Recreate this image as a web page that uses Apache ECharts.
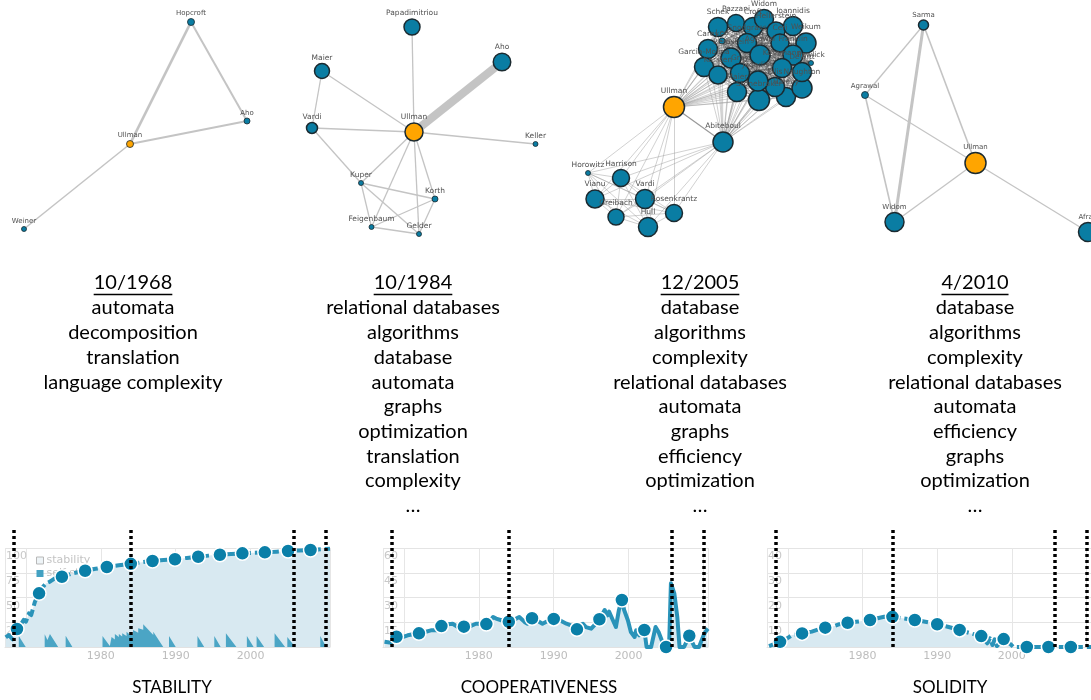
<!DOCTYPE html>
<html><head><meta charset="utf-8">
<script src="https://cdn.jsdelivr.net/npm/echarts@6/dist/echarts.min.js"></script>
<style>html,body{margin:0;padding:0;background:#fff}#c{width:1091px;height:700px}</style>
</head><body><div id="c"></div>
<script>
// ================= DATA =================
const focusAuthor = 'Ullman';
const snapshotDates = ['10/1968', '10/1984', '12/2005', '4/2010'];
const topics1968 = ['automata', 'decomposition', 'translation', 'language complexity'];
const topics1984 = ['relational databases', 'algorithms', 'database', 'automata', 'graphs', 'optimization', 'translation', 'complexity', '…'];
const topics2005 = ['database', 'algorithms', 'complexity', 'relational databases', 'automata', 'graphs', 'efficiency', 'optimization', '…'];
const topics2010 = ['database', 'algorithms', 'complexity', 'relational databases', 'automata', 'efficiency', 'graphs', 'optimization', '…'];
const metricNames = ['STABILITY', 'COOPERATIVENESS', 'SOLIDITY'];
const eventYears = [1968.4, 1984.05, 2005.7, 2010.0];
const xLabelYears = [1980, 1990, 2000];

const stabilityLine = [[1967.3,9.8],[1967.7,12.1],[1968.2,7.8],[1968.8,18.2],[1969.4,23.9],[1969.7,27.3],[1970.0,25.6],[1970.4,34],[1970.7,32.3],[1971.2,45.8],[1971.75,54.2],[1972.3,61],[1972.7,64.3],[1973.2,66],[1973.85,69.4],[1974.8,71],[1976.3,74.5],[1977.9,77],[1979.3,79],[1980.8,80.8],[1982.4,82.5],[1984.0,84],[1985.5,85.6],[1986.9,86.9],[1988.4,87.8],[1989.9,88.6],[1991.5,90],[1993.0,91.2],[1994.4,92.3],[1995.9,93.2],[1997.4,94],[1998.9,94.6],[2000.4,95.2],[2001.9,95.6],[2003.5,96.3],[2005.0,97],[2006.5,97.5],[2008.0,98],[2010.6,99.3]];
const stabilityDots = [[1968.8,18.2],[1971.75,54.2],[1974.8,71],[1977.9,77],[1980.8,80.8],[1984.0,84],[1986.9,86.9],[1989.9,88.6],[1993.0,91.2],[1995.9,93.2],[1998.9,94.6],[2001.9,95.6],[2005.0,97],[2008.0,98]];
const selfStability = [[1967.2,0],[1969.04,0],[1969.04,11.1],[1969.97,0],[1972.5,0],[1972.5,12.8],[1972.87,7],[1973.2,13.1],[1974.3,0],[1975.3,0],[1975.3,11.4],[1976.2,0],[1980.22,0],[1980.22,11.1],[1981.2,1],[1981.43,1],[1981.43,10.1],[1981.87,7.5],[1981.87,13.1],[1982.4,10],[1982.4,13.1],[1982.85,10.5],[1982.85,13.8],[1983.43,11],[1983.43,15.5],[1983.88,12.5],[1983.88,14.5],[1984.3,12.5],[1984.3,17.2],[1984.99,14.5],[1984.99,18.9],[1985.66,17.5],[1985.66,22.9],[1987.0,12],[1987.0,15.5],[1988.33,0],[1989.1,0],[1989.1,11.1],[1990.0,0],[1992.9,0],[1992.9,11.1],[1993.8,0],[1995.15,0],[1995.15,11.1],[1996.0,0],[1996.7,0],[1996.7,13.8],[1998.1,0],[1999.5,0],[1999.5,11.1],[2000.4,0],[2000.8,0],[2000.8,11.1],[2001.8,0],[2003.2,0],[2003.2,13.8],[2004.6,0],[2004.9,0],[2004.9,10.1],[2005.95,0],[2009.3,0],[2009.3,11.1],[2010.1,0],[2010.6,0]];

const coopLine = [[1967.4,3.2],[1968.3,2.6],[1969.0,6.2],[1969.9,6.1],[1970.5,7.1],[1971.2,7.7],[1972.0,8.3],[1972.8,9.1],[1973.6,10.1],[1974.3,10.1],[1975.0,12.7],[1975.9,13.8],[1976.5,14.1],[1977.2,12.1],[1978.0,12.3],[1978.8,12.5],[1979.6,14.1],[1980.5,14.1],[1981.0,13.9],[1981.4,15.2],[1981.9,18.2],[1982.3,17.2],[1983.0,16.2],[1983.4,16.7],[1984.0,15.3],[1984.5,15.6],[1985.0,17.2],[1985.4,18.2],[1986.1,15.2],[1986.5,14.1],[1987.1,17.4],[1987.7,16.2],[1988.1,15.2],[1988.5,14.1],[1989.4,16.2],[1990.0,17.0],[1990.8,16.2],[1991.7,14.1],[1992.3,13.1],[1993.1,10.7],[1993.4,13.1],[1993.9,14.1],[1994.3,12.1],[1995.0,11.1],[1995.4,13.1],[1996.1,16.8],[1996.3,18.2],[1996.8,22.4],[1997.2,19.2],[1997.4,21.4],[1997.9,16.2],[1998.3,12.1],[1998.7,22.4],[1999.1,28.5],[1999.4,22.4],[1999.9,16.2],[2000.3,9.1],[2000.8,6.1],[2001.0,10.1],[2001.4,7.1],[2002.1,10.3],[2002.4,0],[2003.0,0],[2003.6,12.1],[2004.0,9.1],[2004.5,3.2],[2004.8,0],[2005.0,0],[2005.4,0],[2005.65,38.6],[2006.1,32.5],[2006.5,18.2],[2006.8,0],[2007.4,0],[2008.1,6.8],[2008.8,0],[2009.4,0],[2010.1,8.1],[2010.4,10.1],[2010.6,11.1]];
const coopDots = [[1969.0,6.2],[1972.0,8.3],[1975.0,12.7],[1978.0,12.3],[1981.0,13.9],[1984.0,15.3],[1987.1,17.4],[1990.0,17.0],[1993.1,10.7],[1996.1,16.8],[1999.1,28.5],[2002.1,10.3],[2005.0,0],[2008.1,6.8]];

const solidityLine = [[1967.47,0.4],[1968.95,2.1],[1969.9,3.5],[1970.55,4.8],[1971.9,5.5],[1973.2,6.2],[1974.06,7.1],[1975.0,7.8],[1976.27,8.5],[1976.9,9.2],[1978.0,9.8],[1979.1,10.2],[1980.0,10.5],[1981.0,10.9],[1982.0,11.6],[1982.9,12.2],[1984.0,12.2],[1985.3,11.6],[1987.0,10.9],[1988.4,10.2],[1990.0,9.2],[1991.4,8.2],[1993.0,6.9],[1994.5,5.5],[1995.9,4.4],[1996.7,1.5],[1997.06,3.5],[1997.4,0.8],[1997.7,3.1],[1998.0,0.4],[1998.9,3.2],[1999.8,1.2],[2000.2,0],[2002.0,0],[2004.9,0],[2007.9,0],[2010.6,0]];
const solidityDots = [[1968.95,2.1],[1971.9,5.5],[1975.0,7.8],[1978.0,9.8],[1981.0,10.9],[1984.0,12.2],[1987.0,10.9],[1990.0,9.2],[1993.0,6.9],[1995.9,4.4],[1998.9,3.2],[2002.0,0],[2004.9,0],[2007.9,0]];

// ---- co-author networks (names, node weights, links) ----
const net1Nodes = ['Ullman', 'Hopcroft', 'Aho', 'Weiner'];
const net1Weights = [7, 7, 6, 5];
const net1Links = [['Ullman','Hopcroft',2.6],['Hopcroft','Aho',2],['Ullman','Aho',2],['Ullman','Weiner',1.5]];

const net2Nodes = ['Ullman','Papadimitriou','Aho','Maier','Vardi','Keller','Kuper','Korth','Feigenbaum','Gelder'];
const net2Weights = [18, 16, 17.5, 15, 11, 5, 5, 6, 5, 5];
const net2Links = [['Ullman','Aho',8],['Ullman','Papadimitriou',1.3],['Ullman','Maier',1.3],['Ullman','Vardi',1.3],['Ullman','Keller',1.3],['Ullman','Kuper',1.3],['Ullman','Feigenbaum',1.3],['Ullman','Gelder',1.3],['Ullman','Korth',1.3],['Maier','Vardi',1.3],['Vardi','Kuper',1.3],['Kuper','Korth',1.3],['Kuper','Feigenbaum',1.3],['Kuper','Gelder',1.3],['Feigenbaum','Korth',1.3],['Feigenbaum','Gelder',1.3],['Korth','Gelder',1.3]];

const net3Hubs = ['Ullman', 'Abiteboul'];
const net3HubWeights = [21, 20];
const net3Cluster = ['Schek','Pazzani','Croft','Widom','Hellerstein','Ioannidis','Lee','Carey','Snodgrass','Ceri','Weikum','Franklin','Bernstein','Agrawal','Garcia-Molina','Kersten','Gray','Maier','Stonebraker','Halevy','Ellis','Naughton','DeWitt','Pawlick','Jagadish','Kossmann'];
const net3ClusterWeights = [19,17,19,19,18,19,6,19,19,18,20,20,20,20,19,18,19,19,21,19,19,20,19,5,20,19];
const net3Lower = ['Horowitz','Harrison','Vianu','Vardi','Rosenkrantz','Greibach','Hull'];
const net3LowerWeights = [5, 17, 18, 19, 17, 16, 19];

const net4Nodes = ['Ullman','Sarma','Agrawal','Widom','Afrati'];
const net4Weights = [21, 10, 7, 19, 19];
const net4Links = [['Sarma','Agrawal',1.3],['Sarma','Widom',3],['Sarma','Ullman',1.6],['Agrawal','Widom',1.6],['Agrawal','Ullman',1.3],['Ullman','Widom',1.3],['Ullman','Afrati',1.3]];

// ---- node placement of the drawn networks (canvas coordinates of the hidden axes) ----
const netLayout1 = {Ullman:[130,144], Hopcroft:[191,22], Aho:[247,121], Weiner:[24,229]};
const netLayout2 = {Ullman:[414,132], Papadimitriou:[412,27], Aho:[502,62], Maier:[322,71], Vardi:[312,128], Keller:[535.5,144], Kuper:[361,183], Korth:[435,199], Feigenbaum:[371.5,227], Gelder:[419,234]};
const netLayout3 = {Ullman:[674,107], Abiteboul:[723,142],
  Schek:[718,27], Pazzani:[736,23], Croft:[753,27], Widom:[764,19], Hellerstein:[776,31], Ioannidis:[793,26], Lee:[722,41], Carey:[708,49], Snodgrass:[747,43], Ceri:[780,43], Weikum:[806,43], Franklin:[793,55], Bernstein:[731,58], Agrawal:[760,55], 'Garcia-Molina':[704,67], Kersten:[718,75], Gray:[740,73], Maier:[737,92], Stonebraker:[759,100], Halevy:[786,97], Ellis:[775,87], Naughton:[802,88], DeWitt:[802,72], Pawlick:[811,63], Jagadish:[758,81], Kossmann:[782,68],
  Horowitz:[588,173], Harrison:[621,178], Vianu:[595,199], Vardi:[645,199], Rosenkrantz:[674,213], Greibach:[616,217], Hull:[648,227]};
const netLayout4 = {Ullman:[975.5,163], Sarma:[923.5,25], Agrawal:[865,95], Widom:[894.5,222], Afrati:[1088,232]};

// ================= CHART =================
const chart = echarts.init(document.getElementById('c'), null, {renderer:'canvas', width:1091, height:700});
const X_MIN = 1967.2, X_MAX = 2010.6;
const chartLefts = [5, 383, 767];
const yMaxes = [100, 60, 40], yIntervals = [25, 15, 10];
const LINE_C = '#2a93b9', DOT_C = '#0a7fa8', AREA_C = '#d8e9f1';

const grids = [], xAxes = [], yAxes = [], series = [];
chartLefts.forEach((l, i) => {
  grids.push({left:l, top:548, width:325, height:99});
  grids.push({left:l, top:528, width:325, height:119});
  xAxes.push({gridIndex:2*i, type:'value', min:X_MIN, max:X_MAX, splitNumber:4,
    axisLine:{show:true, lineStyle:{color:'#e2e2e2'}}, axisTick:{show:false},
    splitLine:{show:true, lineStyle:{color:'#e6e6e6', width:1}},
    axisLabel:{color:'#bdbdbd', fontSize:11, fontFamily:'DejaVu Sans', margin:4,
      showMinLabel:false, showMaxLabel:false,
      formatter: v => xLabelYears.some(y => Math.abs(y - v) < 0.01) ? String(Math.round(v)) : ''}});
  xAxes.push({gridIndex:2*i+1, type:'value', min:X_MIN, max:X_MAX, show:false});
  yAxes.push({gridIndex:2*i, type:'value', min:0, max:yMaxes[i], interval:yIntervals[i],
    axisLine:{show:false}, axisTick:{show:false},
    splitLine:{show:true, lineStyle:{color:'#e4e4e4'}},
    axisLabel:{inside:true, verticalAlign:'top', margin:1, padding:[3,0,0,0], color:'#c9c9c9', fontSize:11, fontFamily:'DejaVu Sans', showMinLabel:false}});
  yAxes.push({gridIndex:2*i+1, type:'value', min:0, max:1, show:false});
  // event markers (snapshot dates)
  series.push({type:'line', xAxisIndex:2*i+1, yAxisIndex:2*i+1, data:[], z:10, silent:true,
    markLine:{symbol:['none','none'], silent:true, animation:false, label:{show:false},
      lineStyle:{color:'#000', width:3.5, type:[3,3], cap:'butt', opacity:1},
      emphasis:{disabled:true},
      data: eventYears.map(v => ({xAxis:v}))}});
});
grids.push({left:0, top:0, width:1091, height:700});
xAxes.push({gridIndex:6, type:'value', min:0, max:1091, show:false});
yAxes.push({gridIndex:6, type:'value', min:0, max:700, inverse:true, show:false});

const metricSeries = [
  {name:'stability', line:stabilityLine, dots:stabilityDots, dash:[10,4]},
  {name:'cooperativeness', line:coopLine, dots:coopDots, dash:'solid'},
  {name:'solidity', line:solidityLine, dots:solidityDots, dash:[10,4]}
];
metricSeries.forEach((m, i) => {
  series.push({name:m.name, type:'line', xAxisIndex:2*i, yAxisIndex:2*i, data:m.line, showSymbol:false, z:2,
    lineStyle:{color:LINE_C, width:4, type:m.dash, join:'round'}, itemStyle:{color:LINE_C},
    areaStyle:{color:AREA_C, opacity:1}, emphasis:{disabled:true}, silent:true});
  series.push({name:m.name + ' points', type:'scatter', xAxisIndex:2*i, yAxisIndex:2*i, data:m.dots, z:4,
    symbolSize:14, clip:false, itemStyle:{color:DOT_C, borderColor:'#fff', borderWidth:1.5, opacity:1}, silent:true});
  if (i === 0) {
    series.push({name:'self-stability', type:'line', xAxisIndex:0, yAxisIndex:0, data:selfStability, showSymbol:false, z:3,
      lineStyle:{width:0}, itemStyle:{color:'#43a1c2'}, areaStyle:{color:'#43a1c2', opacity:0.95}, silent:true});
  }
});

// networks
function nodeStyle(name, size) {
  return {color: name === focusAuthor ? '#ffa500' : '#0a7da3', borderColor:'#1b2a30', borderWidth: size > 9 ? 1.5 : 0.8};
}
function graphSeries(names, weights, layout, links, lineStyle, labelSize) {
  return {type:'graph', coordinateSystem:'cartesian2d', xAxisIndex:6, yAxisIndex:6, z:5, silent:true,
    data: names.map((n, k) => ({name:n, value:layout[n], symbolSize:weights[k], itemStyle:nodeStyle(n, weights[k])})),
    links: links.map(l => ({source:l[0], target:l[1], lineStyle:Object.assign({}, lineStyle, l[2] ? {width:l[2]} : {}, l[3] || {})})),
    label:{show:true, position:'top', distance:1, fontSize:labelSize, color:'#505050', fontFamily:'DejaVu Sans'},
    lineStyle:{color:'#c4c4c4', width:1.2, opacity:1, curveness:0},
    emphasis:{disabled:true}, animation:false};
}
series.push(graphSeries(net1Nodes, net1Weights, netLayout1, net1Links, {color:'#c4c4c4'}, 7));
series.push(graphSeries(net2Nodes, net2Weights, netLayout2, net2Links, {color:'#c4c4c4'}, 7.5));
// network 3 links: the dense cluster, the lower group, and the hubs joining them
const net3Links = [['Ullman','Abiteboul',1.2]];
const dense = {color:'#3a3a3a', opacity:0.5};
const light = {color:'#999', opacity:0.65};
for (let a = 0; a < net3Cluster.length; a++) for (let b = a + 1; b < net3Cluster.length; b++) net3Links.push([net3Cluster[a], net3Cluster[b], 0.6, dense]);
for (let a = 0; a < net3Lower.length; a++) for (let b = a + 1; b < net3Lower.length; b++) net3Links.push([net3Lower[a], net3Lower[b], 0.7, light]);
net3Hubs.forEach(h => {
  net3Cluster.forEach(c => net3Links.push([h, c, 0.7, light]));
  net3Lower.forEach(c => net3Links.push([h, c, 0.7, light]));
});
series.push(graphSeries(net3Hubs.concat(net3Cluster, net3Lower), net3HubWeights.concat(net3ClusterWeights, net3LowerWeights), netLayout3, net3Links, {color:'#999'}, 7.5));
series.push(graphSeries(net4Nodes, net4Weights, netLayout4, net4Links, {color:'#c4c4c4'}, 7));

// texts
const colCenters = [133, 413, 700, 975];
const topicLists = [topics1968, topics1984, topics2005, topics2010];
const TOPIC_FONT = '20px Lato';
const measure = document.createElement('canvas').getContext('2d');
measure.font = TOPIC_FONT;
const graphic = [];
snapshotDates.forEach((d, i) => {
  const cx = colCenters[i];
  graphic.push({type:'text', x:cx, y:283, style:{text:d, font:TOPIC_FONT, fill:'#000', textAlign:'center', textVerticalAlign:'middle'}});
  const w = measure.measureText(d).width;
  graphic.push({type:'line', shape:{x1:cx - w/2, y1:294.5, x2:cx + w/2, y2:294.5}, style:{stroke:'#000', lineWidth:1.5}});
  topicLists[i].forEach((t, k) => {
    graphic.push({type:'text', x:cx, y:308 + k*24.7, style:{text:t, font:TOPIC_FONT, fill:'#000', textAlign:'center', textVerticalAlign:'middle'}});
  });
});
const captionCenters = [172, 539, 950];
metricNames.forEach((t, i) => {
  graphic.push({type:'text', x:captionCenters[i], y:688, style:{text:t, font:'17px Lato', fill:'#000', textAlign:'center', textVerticalAlign:'middle'}});
});

chart.setOption({
  animation:false,
  backgroundColor:'#fff',
  grid:grids, xAxis:xAxes, yAxis:yAxes,
  legend:{show:true, left:31, top:550, orient:'vertical', itemGap:2, itemWidth:7, itemHeight:7, z:1, selectedMode:false,
    textStyle:{color:'#c4c4c4', fontSize:11, fontFamily:'DejaVu Sans', padding:[0,0,0,-2]},
    data:[{name:'stability', icon:'rect', itemStyle:{color:'#eef4f7', borderColor:'#b8b8b8', borderWidth:1}},
          {name:'self-stability', icon:'rect', itemStyle:{color:'#43a1c2'}}]},
  series:series,
  graphic:graphic
});
</script></body></html>
